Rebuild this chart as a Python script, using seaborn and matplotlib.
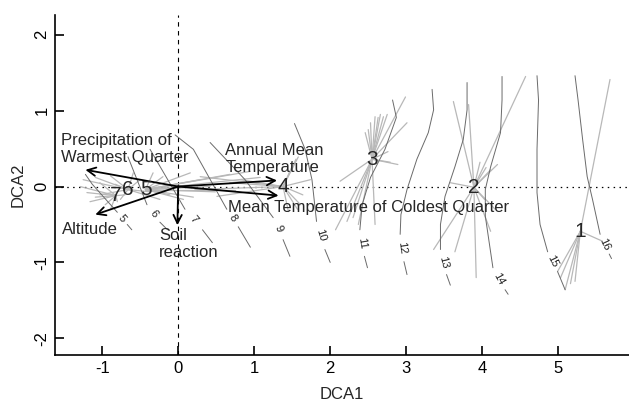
import numpy as np
import pandas as pd
import matplotlib
matplotlib.use("Agg")
import matplotlib.pyplot as plt
import seaborn as sns

# cluster centroids (DCA1, DCA2)
cluster_ids = ["1", "2", "3", "4", "5", "6", "7"]
centroid_x = [5.29, 3.89, 2.55, 1.38, -0.43, -0.66, -0.82]
centroid_y = [-0.59, -0.01, 0.36, 0.00, -0.04, -0.04, -0.12]

# site scores of each cluster (spider ends)
sites_1 = [(5.68, 1.41), (5.58, -0.72), (4.99, -1.12), (5.03, -1.20),
           (5.09, -1.36), (5.16, -1.28), (5.22, -1.25)]
sites_2 = [(3.62, 1.12), (3.82, 1.08), (4.57, 1.45), (4.20, 0.29), (4.11, 0.22),
           (3.97, 0.32), (4.05, 0.25), (3.58, 0.05), (3.36, -0.83), (3.64, -0.86),
           (3.92, -1.20), (4.11, -0.59), (4.17, -0.30), (4.03, -0.17)]
sites_3 = [(2.53, 0.84), (2.59, 0.92), (2.63, 0.91), (2.66, 0.95), (2.70, 0.92),
           (2.75, 0.95), (2.46, 0.71), (2.50, 0.75), (2.99, 1.18), (3.01, 0.84),
           (2.89, 0.29), (2.76, 0.46), (2.13, 0.07), (2.07, -0.57), (2.22, -0.46),
           (2.30, -0.41), (2.37, -0.50), (2.59, -0.50), (2.79, 0.32)]
sites_4 = [(1.58, 0.39), (1.55, 0.36), (1.51, 0.29), (1.74, 0.09), (1.64, -0.11),
           (1.61, -0.24), (1.57, -0.30), (1.45, -0.33), (0.29, 0.13), (0.22, -0.04),
           (0.51, -0.13), (0.82, 0.09), (0.68, 0.05)]
sites_5 = [(0.95, 0.20), (0.68, 0.16), (0.42, 0.00), (0.20, -0.14), (0.07, -0.17),
           (0.16, 0.18), (-0.20, 0.13), (-0.33, 0.18), (0.29, 0.09), (0.49, -0.07),
           (-0.11, -0.11), (1.08, 0.12), (0.75, -0.04)]
sites_6 = [(-1.25, 0.09), (-1.09, 0.12), (-0.89, 0.14), (-0.59, 0.18), (-1.03, -0.11),
           (-0.76, -0.17), (-0.50, 0.09), (-0.24, -0.17), (-0.37, -0.07), (-0.83, 0.03)]
sites_7 = [(-1.29, 0.00), (-1.20, -0.08), (-1.16, -0.20), (-0.96, -0.24), (-0.80, -0.20),
           (-0.89, -0.30), (-1.03, 0.05), (-0.70, -0.11), (-1.09, -0.14)]
cluster_sites = [sites_1, sites_2, sites_3, sites_4, sites_5, sites_6, sites_7]

# environmental vectors (envfit)
env_names = ["Precipitation of\nWarmest Quarter", "Altitude", "Soil\nreaction",
             "Annual Mean\nTemperature", "Mean Temperature of Coldest Quarter"]
env_x = [-1.22, -1.09, -0.01, 1.30, 1.32]
env_y = [0.22, -0.37, -0.51, 0.08, -0.12]
env_label_x = [-1.54, -1.53, -0.25, 0.62, 0.66]
env_label_y = [0.49, -0.57, -0.76, 0.36, -0.27]

# ordisurf isolines: part above and below the level label
contour_levels = [5, 6, 7, 8, 9, 10, 11, 12, 13, 14, 15, 16]
contour_upper = [
    [(-1.22, 0.16), (-1.13, 0.03), (-0.80, -0.34)],
    [(-0.66, 0.39), (-0.41, -0.24)],
    [(-0.37, 0.49), (0.09, -0.30)],
    [(-0.04, 0.68), (0.20, 0.49), (0.64, -0.30)],
    [(0.42, 0.58), (0.88, 0.09), (1.25, -0.41)],
    [(1.53, 0.83), (1.67, 0.49), (1.76, 0.09), (1.82, -0.46)],
    [(2.82, 1.14), (2.87, 0.91), (2.72, 0.49), (2.53, 0.12), (2.42, -0.24), (2.39, -0.57)],
    [(3.34, 1.28), (3.36, 1.01), (3.29, 0.71), (3.14, 0.36), (3.01, -0.04), (2.93, -0.37), (2.92, -0.63)],
    [(3.80, 1.37), (3.80, 1.01), (3.75, 0.62), (3.64, 0.26), (3.51, -0.13), (3.45, -0.50), (3.45, -0.83)],
    [(4.26, 1.45), (4.26, 1.14), (4.24, 0.71), (4.11, 0.26), (4.04, -0.04), (4.04, -0.39), (4.14, -1.07)],
    [(4.72, 1.46), (4.74, 1.14), (4.72, 0.49), (4.72, -0.08), (4.76, -0.50), (4.86, -0.86)],
    [(5.22, 1.46), (5.26, 1.14), (5.32, 0.62), (5.38, 0.13), (5.45, -0.17), (5.55, -0.63)],
]
contour_lower = [
    [(-0.67, -0.50), (-0.61, -0.57)],
    [(-0.24, -0.47), (-0.14, -0.57)],
    [(0.32, -0.57), (0.45, -0.74)],
    [(0.79, -0.53), (0.95, -0.80)],
    [(1.38, -0.70), (1.47, -0.92)],
    [(1.93, -0.83), (2.00, -1.00)],
    [(2.45, -0.92), (2.49, -1.07)],
    [(2.97, -0.99), (3.01, -1.16)],
    [(3.53, -1.16), (3.58, -1.30)],
    [(4.30, -1.36), (4.34, -1.42)],
    [(4.99, -1.12), (5.09, -1.36)],
    [(5.67, -0.89), (5.70, -0.95)],
]

# long tables for seaborn
spider_rows = []
for cid, cx, cy, sites in zip(cluster_ids, centroid_x, centroid_y, cluster_sites):
    for j, (sx, sy) in enumerate(sites):
        seg = f"{cid}-{j}"
        spider_rows.append({"seg": seg, "x": cx, "y": cy})
        spider_rows.append({"seg": seg, "x": sx, "y": sy})
spider = pd.DataFrame(spider_rows)

contour_rows = []
for lev, up, lo in zip(contour_levels, contour_upper, contour_lower):
    for part, pts in (("a", up), ("b", lo)):
        for px, py in pts:
            contour_rows.append({"seg": f"{lev}{part}", "x": px, "y": py})
contours = pd.DataFrame(contour_rows)

sns.set_style("ticks")
plt.rcParams["font.family"] = ["Liberation Sans", "DejaVu Sans"]

fig = plt.figure(figsize=(6.29, 4.03), dpi=100)
ax = fig.add_axes([55 / 629, 48 / 403, 574 / 629, 340 / 403])
ax.set_xlim(-1.62, 5.93)
ax.set_ylim(-2.22, 2.26)

sns.lineplot(data=spider, x="x", y="y", units="seg", estimator=None, sort=False,
             color="#b8b8b8", lw=0.9, ax=ax, legend=False)
sns.lineplot(data=contours, x="x", y="y", units="seg", estimator=None, sort=False,
             color="#6a6a6a", lw=0.7, ax=ax, legend=False)

ax.axvline(0, color="black", lw=0.8, ls=(0, (4, 4)), zorder=1)
ax.axhline(0, color="black", lw=0.9, ls=(0, (1.2, 3.5)), zorder=1)

# contour labels in the gaps, rotated with the line
fig.canvas.draw()
for lev, up, lo in zip(contour_levels, contour_upper, contour_lower):
    a = np.array(up[-1])
    b = np.array(lo[0])
    mid = (a + b) / 2
    da = ax.transData.transform(a)
    db = ax.transData.transform(b)
    ang = np.degrees(np.arctan2(db[1] - da[1], db[0] - da[0]))
    if ang < -90:
        ang += 180
    elif ang > 90:
        ang -= 180
    ax.text(mid[0], mid[1], str(lev), rotation=ang, rotation_mode="anchor",
            ha="center", va="center", fontsize=8, color="#222222")

# environmental arrows
for ex, ey in zip(env_x, env_y):
    ax.annotate("", xy=(ex, ey), xytext=(0, 0),
                arrowprops=dict(arrowstyle="->,head_length=0.6,head_width=0.3",
                                lw=1.3, color="black", shrinkA=0, shrinkB=0))
for name, lx, ly in zip(env_names, env_label_x, env_label_y):
    ax.text(lx, ly, name, ha="left", va="center", fontsize=12, linespacing=1.15)

# cluster numbers
for cid, cx, cy in zip(cluster_ids, centroid_x, centroid_y):
    ax.text(cx, cy, cid, ha="center", va="center", fontsize=15)

ax.set_xticks([-1, 0, 1, 2, 3, 4, 5])
ax.set_yticks([-2, -1, 0, 1, 2])
ax.set_xticklabels(["-1", "0", "1", "2", "3", "4", "5"])
ax.set_yticklabels(["-2", "-1", "0", "1", "2"], rotation=90, va="center")
ax.tick_params(direction="in", length=6.5, width=1.2, labelsize=12, pad=4, colors="black")
ax.set_xlabel("DCA1", fontsize=12, labelpad=8)
ax.set_ylabel("DCA2", fontsize=12, labelpad=6)
sns.despine(ax=ax)
for s in ("left", "bottom"):
    ax.spines[s].set_linewidth(1.2)
    ax.spines[s].set_color("black")

fig.savefig("out.png", dpi=100)
